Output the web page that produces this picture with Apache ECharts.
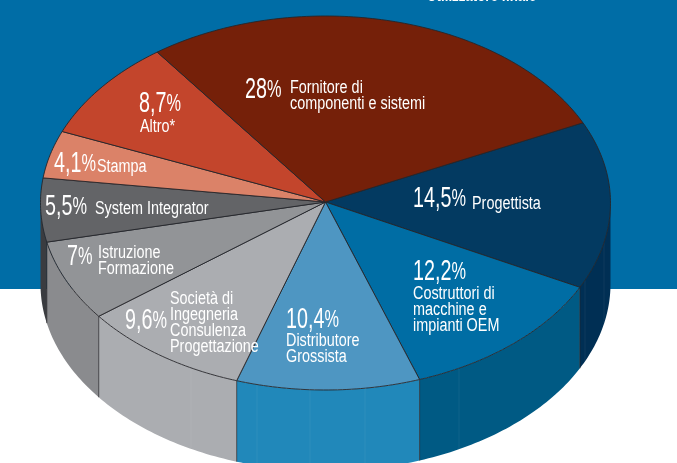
<!DOCTYPE html>
<html>
<head>
<meta charset="utf-8">
<style>
  html, body { margin: 0; padding: 0; background: #fff; }
  #chart { width: 677px; height: 463px; }
</style>
<script src="https://cdn.jsdelivr.net/npm/echarts@6/dist/echarts.min.js"></script>
</head>
<body>
<div id="chart"></div>
<script>
// clockwise from the Fornitore/Progettista border
const shares = [14.5, 12.2, 10.4, 9.6, 7, 5.5, 4.1, 8.7, 28];
const shareLabels = ['14,5', '12,2', '10,4', '9,6', '7', '5,5', '4,1', '8,7', '28'];
const names = [
  ['Progettista'],
  ['Costruttori di', 'macchine e', 'impianti OEM'],
  ['Distributore', 'Grossista'],
  ['Società di', 'Ingegneria', 'Consulenza', 'Progettazione'],
  ['Istruzione', 'Formazione'],
  ['System Integrator'],
  ['Stampa'],
  ['Altro*'],
  ['Fornitore di', 'componenti e sistemi']
];
const topColors = ['#033a61', '#006da4', '#4e96c2', '#abadb1', '#929497', '#636467', '#db8268', '#c3452c', '#752009'];
const wallColors = ['#002f54', '#005a84', '#2188ba', '#abadb1', '#8a8b8e', '#3a3c40', '#db8268', '#c3452c', '#752009'];
// [share x, share baseline, name x, first name baseline]
const labelSpots = [
  [413, 207, 472, 209],
  [413, 280, 413, 299],
  [286, 328, 286, 346],
  [125, 329, 170, 304],
  [67, 265, 98, 258],
  [45, 215, 95, 214],
  [54, 172, 97, 172],
  [139, 112, 140, 132],
  [245, 98, 290, 93]
];
const seamX = [191, 257, 310, 365, 459, 585, 604];

const CX = 325.5, CY = 203, RX = 285, RY = 187, DEPTH = 81;
const START = -25.4 * Math.PI / 180;
const FONT = '"Liberation Sans", sans-serif';
const edgeColor = 'rgba(38,38,42,0.9)';

const total = shares.reduce((a, b) => a + b, 0);
let run = START;
const sliceAngles = shares.map(v => {
  const a0 = run;
  run += v / total * Math.PI * 2;
  return [a0, run];
});

function rim(a, drop) {
  return [CX + RX * Math.cos(a), CY + RY * Math.sin(a) + (drop || 0)];
}
function arc(a0, a1, drop) {
  const pts = [];
  const n = Math.max(2, Math.ceil((a1 - a0) * 60));
  for (let i = 0; i <= n; i++) pts.push(rim(a0 + (a1 - a0) * i / n, drop));
  return pts;
}

function renderWall(params, api) {
  const i = api.value(0);
  const a0 = Math.max(sliceAngles[i][0], 0);
  const a1 = Math.min(sliceAngles[i][1], Math.PI);
  if (a1 <= a0) return null;
  const points = arc(a0, a1, 0).concat(arc(a0, a1, DEPTH).reverse());
  const children = [{ type: 'polygon', shape: { points }, style: { fill: wallColors[i] } }];
  // dark vertical edge where this slice starts, only on the front half
  if (sliceAngles[i][0] > 0) {
    const p = rim(a0);
    children.push({
      type: 'line',
      shape: { x1: p[0], y1: p[1], x2: p[0], y2: p[1] + DEPTH },
      style: { stroke: 'rgba(38,38,42,0.75)', lineWidth: 1 }
    });
  }
  return { type: 'group', children };
}

function renderSeam(params, api) {
  const x = api.value(0);
  const y = CY + RY * Math.sqrt(1 - Math.pow((x - CX) / RX, 2));
  return {
    type: 'line',
    shape: { x1: x, y1: y, x2: x, y2: y + DEPTH },
    style: { stroke: 'rgba(255,255,255,0.06)', lineWidth: 1 }
  };
}

function renderTop(params, api) {
  const i = api.value(0);
  const a = sliceAngles[i];
  return {
    type: 'polygon',
    shape: { points: [[CX, CY - 1]].concat(arc(a[0], a[1], 0)) },
    style: { fill: topColors[i], stroke: edgeColor, lineWidth: 1, lineJoin: 'round' }
  };
}

function renderLabel(params, api) {
  const i = api.value(0);
  const s = labelSpots[i];
  const children = [{
    type: 'text',
    x: s[0],
    y: s[1] + 7,
    scaleX: 0.68,
    style: {
      text: '{n|' + shareLabels[i] + '}{p|%}',
      fill: '#fff',
      verticalAlign: 'bottom',
      rich: {
        n: { font: '29px ' + FONT, fill: '#fff', lineHeight: 30 },
        p: { font: '24px ' + FONT, fill: '#fff', lineHeight: 30 }
      }
    }
  }];
  names[i].forEach((line, k) => {
    children.push({
      type: 'text',
      x: s[2],
      y: s[3] + k * 16 + 4,
      scaleX: 0.8,
      style: { text: line, fill: '#fff', font: '18px ' + FONT, verticalAlign: 'bottom' }
    });
  });
  return { type: 'group', children };
}

const chart = echarts.init(document.getElementById('chart'), null, { renderer: 'canvas' });
const sliceRows = shares.map((v, i) => [i, v]);
chart.setOption({
  animation: false,
  backgroundColor: '#ffffff',
  graphic: [
    { type: 'rect', z: 0, shape: { x: 0, y: 0, width: 677, height: 289 }, style: { fill: '#006da6' }, silent: true },
    {
      type: 'text', z: 1, x: 427, y: 5, scaleX: 0.83,
      style: { text: 'Utilizzatore finale', fill: '#fff', font: 'bold 16px ' + FONT, verticalAlign: 'bottom' }
    }
  ],
  series: [
    { type: 'custom', coordinateSystem: 'none', z: 2, silent: true, renderItem: renderWall, data: sliceRows },
    { type: 'custom', coordinateSystem: 'none', z: 3, silent: true, renderItem: renderSeam, data: seamX.map(x => [x]) },
    { type: 'custom', coordinateSystem: 'none', z: 4, silent: true, renderItem: renderTop, data: sliceRows },
    { type: 'custom', coordinateSystem: 'none', z: 5, silent: true, renderItem: renderLabel, data: sliceRows }
  ]
});
</script>
</body>
</html>
